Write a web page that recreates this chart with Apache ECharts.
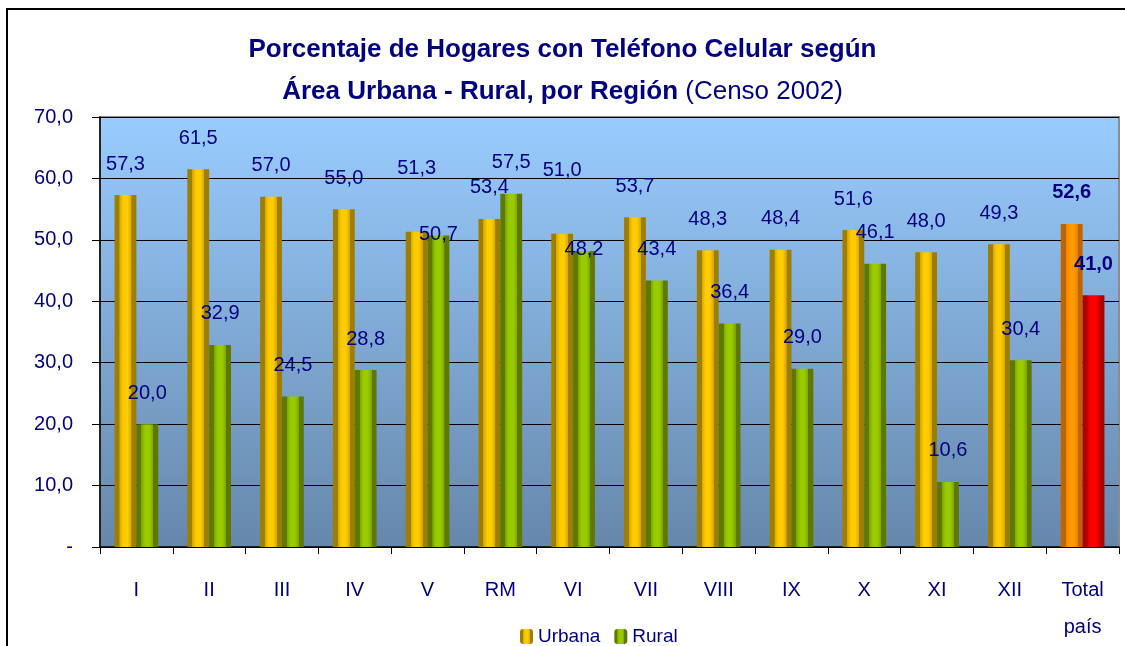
<!DOCTYPE html>
<html>
<head>
<meta charset="utf-8">
<script src="https://cdn.jsdelivr.net/npm/echarts@6/dist/echarts.min.js"></script>
<style>
  html, body { margin: 0; padding: 0; background: #fff; }
  #chart { width: 1125px; height: 646px; }
</style>
</head>
<body>
<div id="chart"></div>
<script>
// regiones y porcentajes (Censo 2002)
var regiones = ['I', 'II', 'III', 'IV', 'V', 'RM', 'VI', 'VII', 'VIII', 'IX', 'X', 'XI', 'XII', 'Total\npaís'];
var urbana = [57.3, 61.5, 57.0, 55.0, 51.3, 53.4, 51.0, 53.7, 48.3, 48.4, 51.6, 48.0, 49.3, 52.6];
var rural = [20.0, 32.9, 24.5, 28.8, 50.7, 57.5, 48.2, 43.4, 36.4, 29.0, 46.1, 10.6, 30.4, 41.0];
var ejeY = { min: 0, max: 70, interval: 10 };

var FONT = '"Liberation Sans", Arial, sans-serif';
var AZUL = '#000080';

function cilindro(dark, mid, light) {
	return new echarts.graphic.LinearGradient(0, 0, 1, 0, [
		{ offset: 0, color: dark },
		{ offset: 0.22, color: dark },
		{ offset: 0.23, color: mid },
		{ offset: 0.4, color: light },
		{ offset: 0.6, color: light },
		{ offset: 0.77, color: mid },
		{ offset: 0.78, color: dark },
		{ offset: 1, color: dark }
	]);
}

var colUrbana = cilindro('#9E7E00', '#D6A800', '#FFCC00');
var colRural = cilindro('#5E7800', '#7EA600', '#99CC00');
var colTotalU = cilindro('#C06400', '#E88400', '#FF9900');
var colTotalR = cilindro('#B00000', '#DD0000', '#FF0000');

function fmt(v) {
	return v.toFixed(1).replace('.', ',');
}

function armar(valores, colTotal) {
	return valores.map(function(v, i) {
		var d = { value: v };
		if (i === valores.length - 1) {
			d.itemStyle = { color: colTotal };
			d.label = { fontWeight: 'bold' };
		}
		return d;
	});
}

// cuando las dos barras tienen casi la misma altura, separar las etiquetas
function choca(i) {
	return Math.abs(urbana[i] - rural[i]) < 4 && urbana[i] >= rural[i];
}

var etiqueta = {
	show: true,
	position: 'top',
	distance: 21,
	color: AZUL,
	fontFamily: FONT,
	fontSize: 20,
	formatter: function(p) { return fmt(p.value); }
};

var mychart = echarts.init(document.getElementById('chart'));

var option = {
	animation: false,
	textStyle: { fontFamily: FONT },
	title: {
		left: 'center',
		top: 24,
		text: 'Porcentaje de Hogares con Teléfono Celular según\n{b|Área Urbana - Rural, por Región} {n|(Censo 2002)}',
		textStyle: {
			fontFamily: FONT,
			fontSize: 26,
			fontWeight: 'bold',
			color: AZUL,
			lineHeight: 42,
			rich: {
				b: { fontFamily: FONT, fontSize: 26, fontWeight: 'bold', color: AZUL, lineHeight: 42 },
				n: { fontFamily: FONT, fontSize: 26, fontWeight: 'normal', color: AZUL, lineHeight: 42 }
			}
		}
	},
	graphic: [{
		type: 'polyline',
		shape: { points: [[7, 646], [7, 9], [1125, 9]] },
		style: { stroke: '#000', lineWidth: 2, fill: null },
		silent: true
	}],
	legend: {
		left: 515,
		top: 622,
		itemWidth: 13,
		itemHeight: 15,
		itemGap: 14,
		textStyle: { fontFamily: FONT, fontSize: 19, color: AZUL },
		data: ['Urbana', 'Rural']
	},
	grid: {
		left: 100,
		right: 6,
		top: 117,
		bottom: 99,
		outerBoundsMode: 'none',
		show: true,
		borderColor: '#8c8c8c',
		borderWidth: 2,
		backgroundColor: new echarts.graphic.LinearGradient(0, 0, 0, 1, [
			{ offset: 0, color: '#99CCFF' },
			{ offset: 1, color: '#6687AA' }
		])
	},
	xAxis: {
		type: 'category',
		data: regiones,
		axisLine: { lineStyle: { color: '#000', width: 1.5 } },
		axisTick: { show: true, length: 7, lineStyle: { color: '#000' } },
		axisLabel: {
			color: AZUL,
			fontFamily: FONT,
			fontSize: 20,
			margin: 25,
			lineHeight: 37,
			interval: 0
		}
	},
	yAxis: {
		type: 'value',
		min: ejeY.min,
		max: ejeY.max,
		interval: ejeY.interval,
		axisLine: { show: true, lineStyle: { color: '#000', width: 1.5 } },
		axisTick: { show: true, length: 8, lineStyle: { color: '#000' } },
		splitLine: { show: true, lineStyle: { color: '#000', width: 1.2 } },
		axisLabel: {
			color: AZUL,
			fontFamily: FONT,
			fontSize: 20,
			margin: 27,
			formatter: function(v) {
				return v === 0 ? '-' : fmt(v);
			}
		}
	},
	series: [{
		name: 'Urbana',
		type: 'bar',
		barGap: '0%',
		barCategoryGap: '40%',
		itemStyle: { color: colUrbana },
		label: etiqueta,
		labelLayout: function(p) {
			return choca(p.dataIndex) ? { dy: -32 } : {};
		},
		data: armar(urbana, colTotalU)
	}, {
		name: 'Rural',
		type: 'bar',
		itemStyle: { color: colRural },
		label: etiqueta,
		labelLayout: function(p) {
			return choca(p.dataIndex) ? { dy: 30 } : {};
		},
		data: armar(rural, colTotalR)
	}]
};

mychart.setOption(option);
</script>
</body>
</html>
